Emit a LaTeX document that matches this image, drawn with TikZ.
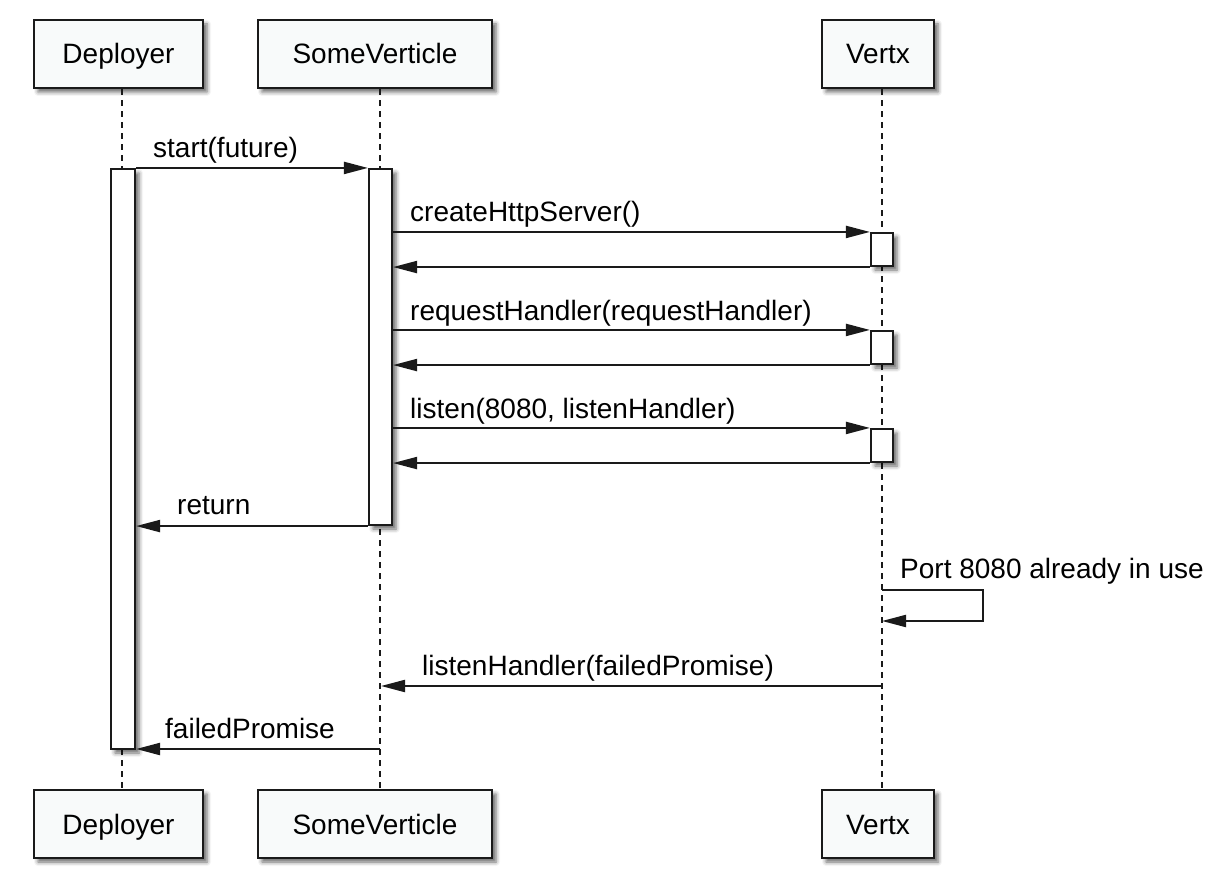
\documentclass[tikz,border=0pt]{standalone}
\usepackage{fontspec}
\setmainfont{Liberation Sans}
\usetikzlibrary{arrows.meta,shadows.blur,calc}
\definecolor{boxfill}{HTML}{F8FAFA}
\definecolor{ink}{HTML}{1A1A1A}
\begin{document}
\begin{tikzpicture}[x=1pt,y=-1pt,
  font=\fontsize{28}{30}\selectfont,
  softshadow/.style={blur shadow={shadow xshift=4pt, shadow yshift=-4pt,
      shadow blur radius=4pt, shadow opacity=60}},
  actor/.style={draw=ink, line width=2.1pt, fill=boxfill, minimum height=68pt,
      text height=20pt, text depth=0pt, inner sep=0pt, softshadow},
  act/.style={draw=ink, line width=2.1pt, fill=white, inner sep=0pt, softshadow},
  lifeline/.style={draw=ink, line width=2pt, dash pattern=on 6pt off 5pt},
  msg/.style={draw=ink, line width=2.1pt, -{Triangle[length=24pt,width=12pt]}},
  lbl/.style={anchor=base west, inner sep=0pt, text=black}]

\useasboundingbox (0,0) rectangle (1228,882);

% lifeline positions
\coordinate (dl) at (122,0);
\coordinate (sl) at (380,0);
\coordinate (vl) at (882,0);

% participants, top and bottom
\node[actor, minimum width=169pt] (dtop) at (118.5,54) {Deployer};
\node[actor, minimum width=234pt] (stop) at (375,54) {SomeVerticle};
\node[actor, minimum width=112pt] (vtop) at (878,54) {Vertx};
\node[actor, minimum width=169pt] (dbot) at (118.5,824) {Deployer};
\node[actor, minimum width=234pt] (sbot) at (375,824) {SomeVerticle};
\node[actor, minimum width=112pt] (vbot) at (878,824) {Vertx};

% lifelines
\draw[lifeline] (dl |- dtop.south) -- (dl |- dbot.north);
\draw[lifeline] (sl |- stop.south) -- (sl |- sbot.north);
\draw[lifeline] (vl |- vtop.south) -- (vl |- vbot.north);

% activation bars
\node[act, minimum width=24pt, minimum height=580pt] (dact) at (123,459) {};
\node[act, minimum width=23pt, minimum height=356pt] (sact) at (380.5,347) {};
\node[act, minimum width=22pt, minimum height=33pt] (v1) at (882,249.5) {};
\node[act, minimum width=22pt, minimum height=33pt] (v2) at (882,347.5) {};
\node[act, minimum width=22pt, minimum height=33pt] (v3) at (882,445.5) {};

% messages
\draw[msg] (dact.north east) -- (sact.north west);
\node[lbl] at (153,158) {start(future)};

\draw[msg] (sact.east |- v1.north) -- (v1.north west);
\node[lbl] at (410,222) {createHttpServer()};
\draw[msg] (v1.south west) -- (sact.east |- v1.south);

\draw[msg] (sact.east |- v2.north) -- (v2.north west);
\node[lbl] at (410,320) {requestHandler(requestHandler)};
\draw[msg] (v2.south west) -- (sact.east |- v2.south);

\draw[msg] (sact.east |- v3.north) -- (v3.north west);
\node[lbl] at (410,418) {listen(8080, listenHandler)};
\draw[msg] (v3.south west) -- (sact.east |- v3.south);

\draw[msg] (sact.south west) -- (dact.east |- sact.south);
\node[lbl] at (177,514) {return};

% self call on Vertx
\coordinate (selfa) at (882,590);
\coordinate (selfb) at (882,621);
\draw[msg] (selfa) -- ++(101,0) |- (selfb);
\node[lbl] at (900,578) {Port 8080 already in use};

\coordinate (lh1) at (882,686);
\coordinate (lh2) at (381,686);
\draw[msg] (lh1) -- (lh2);
\node[lbl] at (422,675) {listenHandler(failedPromise)};

\coordinate (fp) at (380,749);
\draw[msg] (fp) -- (dact.east |- fp);
\node[lbl] at (165,738) {failedPromise};
\end{tikzpicture}
\end{document}
